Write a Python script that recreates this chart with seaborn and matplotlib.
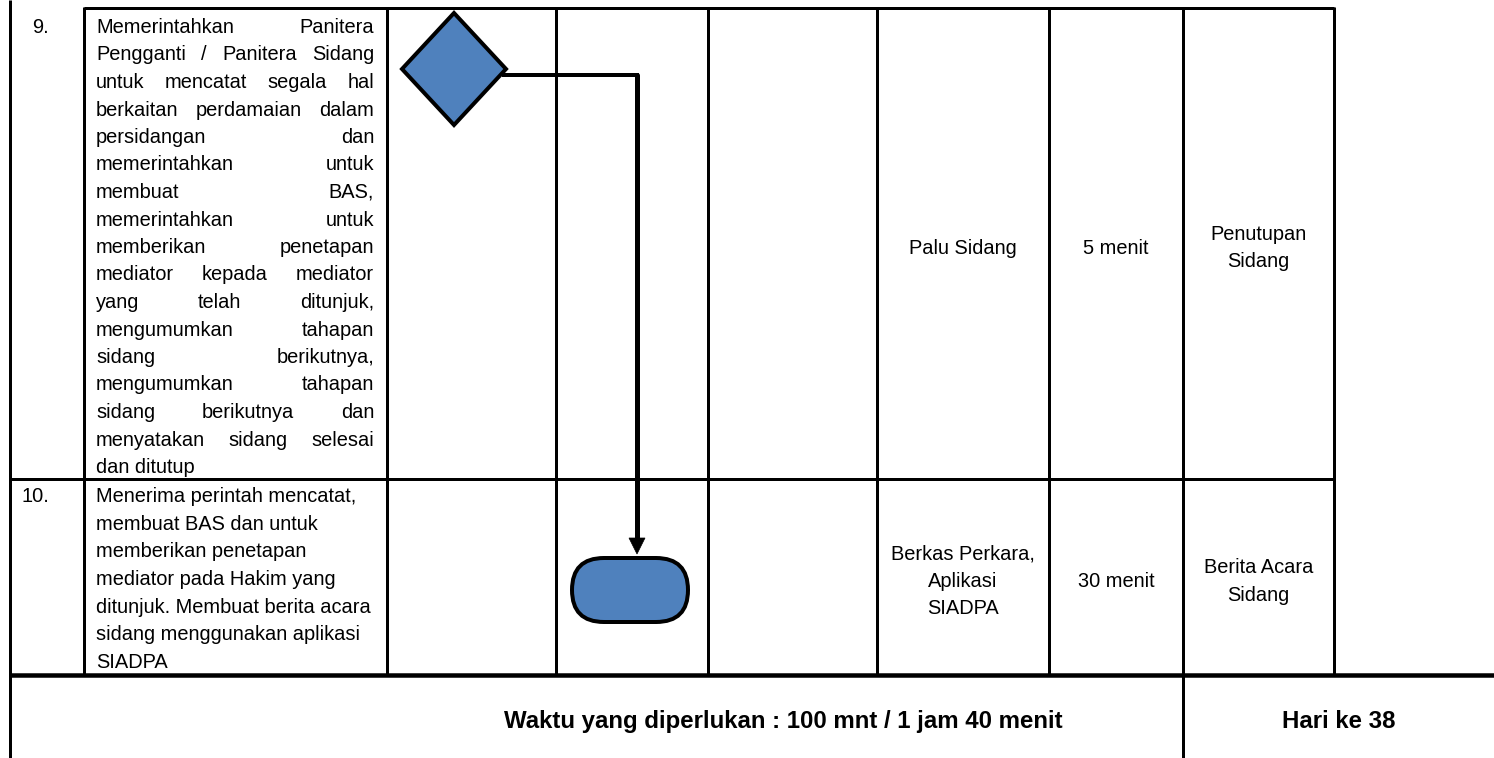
import matplotlib
matplotlib.use('Agg')
import matplotlib.pyplot as plt
import seaborn as sns
from matplotlib import font_manager
from matplotlib.patches import Polygon, FancyBboxPatch

# table content
step_numbers = ['9.', '10.']
step_lines = [
    ['Memerintahkan Panitera',
     'Pengganti / Panitera Sidang',
     'untuk mencatat segala hal',
     'berkaitan perdamaian dalam',
     'persidangan dan',
     'memerintahkan untuk',
     'membuat BAS,',
     'memerintahkan untuk',
     'memberikan penetapan',
     'mediator kepada mediator',
     'yang telah ditunjuk,',
     'mengumumkan tahapan',
     'sidang berikutnya,',
     'mengumumkan tahapan',
     'sidang berikutnya dan',
     'menyatakan sidang selesai',
     'dan ditutup'],
    ['Menerima perintah mencatat,',
     'membuat BAS dan untuk',
     'memberikan penetapan',
     'mediator pada Hakim yang',
     'ditunjuk. Membuat berita acara',
     'sidang menggunakan aplikasi',
     'SIADPA'],
]
step_justified = [True, False]
resources = [['Palu Sidang'], ['Berkas Perkara,', 'Aplikasi', 'SIADPA']]
durations = [['5 menit'], ['30 menit']]
outputs = [['Penutupan', 'Sidang'], ['Berita Acara', 'Sidang']]
total_time = 'Waktu yang diperlukan : 100 mnt / 1 jam 40 menit'
day_label = 'Hari ke 38'

# layout (pixels)
W, H = 1494, 758
col_x = [10, 84, 387, 556, 708, 877, 1049, 1183, 1334]
row_y = [8, 479, 675]
text_left, text_right = 96, 374
first_base = [33, 502]
line_gap = [27.5, 27.7]
cell_gap = 27.5

sns.set_theme(style='white')


def has_font(name):
    try:
        found = font_manager.findfont(name, fallback_to_default=False)
        return name.split()[-1].lower() in found.lower() or True
    except ValueError:
        return False


narrow = has_font('Liberation Sans Narrow')
family = 'Liberation Sans Narrow' if narrow else 'Liberation Sans'
plt.rcParams['font.family'] = [family, 'DejaVu Sans']

fig = plt.figure(figsize=(W / 100, H / 100), dpi=100)
ax = fig.add_axes([0, 0, 1, 1])
ax.set_xlim(0, W)
ax.set_ylim(H, 0)
ax.axis('off')

px = 0.72  # points per pixel at dpi 100
fs = (24.4 if narrow else 20) * px
fs_bold = (29 if narrow else 24) * px
lw = 3 * px

# grid
ax.hlines(row_y[0], col_x[1], col_x[-1], color='black', lw=lw)
ax.hlines(row_y[1], col_x[0], col_x[-1], color='black', lw=lw)
ax.hlines(row_y[2], col_x[0], W, color='black', lw=4.5 * px)
ax.vlines(col_x[0], 0, H, color='black', lw=lw)
for x in col_x[1:]:
    ax.vlines(x, row_y[0] - 1, row_y[2], color='black', lw=lw)
ax.vlines(col_x[7], row_y[2], H, color='black', lw=lw)

# flow symbols
blue = '#4F81BD'
dcx, dcy, dw, dh = 454, 69, 52, 56
ax.add_patch(Polygon([(dcx, dcy - dh), (dcx + dw, dcy), (dcx, dcy + dh), (dcx - dw, dcy)],
                     closed=True, fc=blue, ec='black', lw=4 * px, joinstyle='miter', zorder=3))
tx, ty, tw, th = 572, 558, 116, 64
ax.add_patch(FancyBboxPatch((tx, ty), tw, th, boxstyle='round,pad=0,rounding_size=%d' % (th // 2),
                            fc=blue, ec='black', lw=4 * px, zorder=3))
ax_x, conn_y, tip_y = 637, 75, 554
ax.plot([dcx + dw - 2, ax_x], [conn_y, conn_y], color='black', lw=4 * px,
        solid_capstyle='projecting', zorder=2)
ax.plot([ax_x, ax_x], [conn_y, tip_y - 12], color='black', lw=5 * px, zorder=2)
ax.add_patch(Polygon([(ax_x - 8, tip_y - 16), (ax_x + 8, tip_y - 16), (ax_x, tip_y)],
                     closed=True, fc='black', ec='black', lw=0.5, zorder=2))

renderer = fig.canvas.get_renderer()


def width_of(s, **kw):
    t = ax.text(0, 0, s, **kw)
    w = t.get_window_extent(renderer).width
    t.remove()
    return w


kw = dict(fontsize=fs, color='black')
for i, lines in enumerate(step_lines):
    base = first_base[i]
    ax.text(49, base, step_numbers[i], ha='right', va='baseline', **kw)
    for j, line in enumerate(lines):
        y = base + j * line_gap[i]
        words = line.split(' ')
        last = j == len(lines) - 1
        if step_justified[i] and not last and len(words) > 1:
            ws = [width_of(w, **kw) for w in words]
            gap = (text_right - text_left - sum(ws)) / (len(words) - 1)
            x = text_left
            for w, wd in zip(words, ws):
                ax.text(x, y, w, ha='left', va='baseline', **kw)
                x += wd + gap
        else:
            ax.text(text_left, y, line, ha='left', va='baseline', **kw)

# centred cells
for i in range(2):
    mid = (row_y[i] + row_y[i + 1]) / 2 + 10
    for cells, c in ((resources, 5), (durations, 6), (outputs, 7)):
        lines = cells[i]
        cx = (col_x[c] + col_x[c + 1]) / 2
        for j, line in enumerate(lines):
            y = mid + (j - (len(lines) - 1) / 2) * cell_gap
            ax.text(cx, y, line, ha='center', va='baseline', **kw)

fb = dict(fontsize=fs_bold, fontweight='bold', color='black', va='baseline', ha='center')
ax.text(783, 728, total_time, **fb)
ax.text((col_x[7] + W) / 2, 728, day_label, **fb)

fig.savefig('out.png', dpi=100, facecolor='white')
